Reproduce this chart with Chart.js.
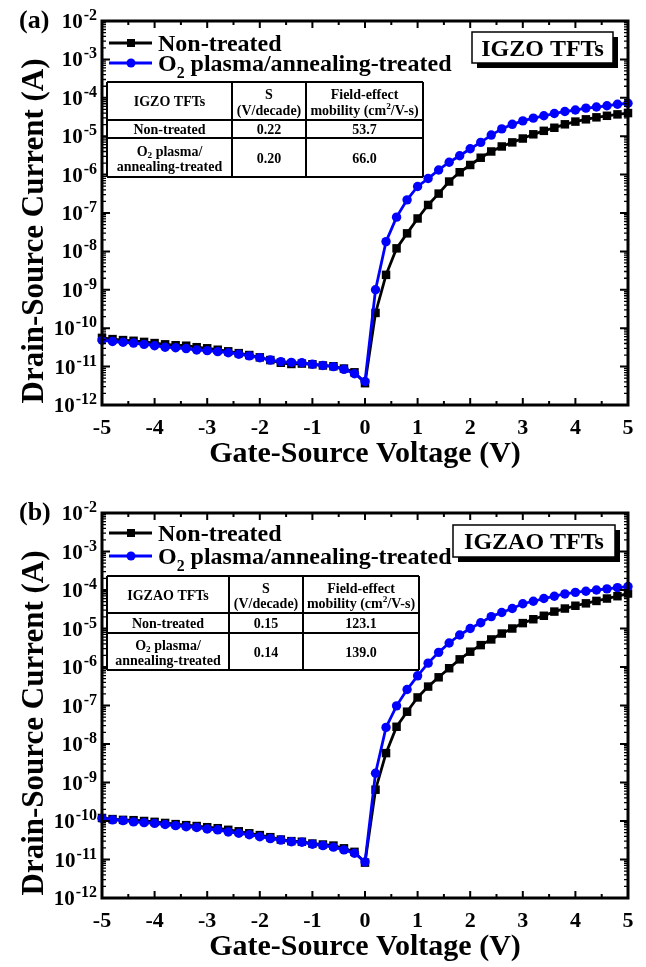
<!DOCTYPE html>
<html>
<head>
<meta charset="utf-8">
<script src="https://cdn.jsdelivr.net/npm/chart.js@4.4.0/dist/chart.umd.min.js"></script>
<style>
  html, body { margin: 0; padding: 0; background: #fff; }
  body { width: 646px; height: 967px; position: relative; overflow: hidden; }
  canvas { position: absolute; left: 0; }
</style>
</head>
<body>
<canvas id="chartA" width="646" height="484" style="top:0px"></canvas>
<canvas id="chartB" width="646" height="483" style="top:484px"></canvas>
<script>
// gate-source voltage (V)
const voltage = [-5, -4.8, -4.6, -4.4, -4.2, -4, -3.8, -3.6, -3.4, -3.2,
  -3, -2.8, -2.6, -2.4, -2.2, -2, -1.8, -1.6, -1.4, -1.2,
  -1, -0.8, -0.6, -0.4, -0.2, 0, 0.2, 0.4, 0.6, 0.8,
  1, 1.2, 1.4, 1.6, 1.8, 2, 2.2, 2.4, 2.6, 2.8,
  3, 3.2, 3.4, 3.6, 3.8, 4, 4.2, 4.4, 4.6, 4.8, 5];

// drain-source current (A), panel (a) IGZO
const igzoNonTreated = [5.6e-11, 5.2e-11, 4.9e-11, 4.7e-11, 4.4e-11, 4.1e-11, 3.8e-11, 3.6e-11, 3.5e-11, 3.2e-11,
  3.0e-11, 2.75e-11, 2.5e-11, 2.24e-11, 2.0e-11, 1.74e-11, 1.48e-11, 1.26e-11, 1.17e-11, 1.2e-11,
  1.15e-11, 1.07e-11, 1.02e-11, 8.9e-12, 7.1e-12, 3.7e-12,
  2.5e-10, 2.45e-9, 1.2e-8, 2.95e-8, 7.2e-8, 1.62e-7, 3.2e-7, 6.6e-7, 1.15e-6, 1.78e-6,
  2.75e-6, 4.0e-6, 5.4e-6, 6.9e-6, 8.7e-6, 1.12e-5, 1.38e-5, 1.66e-5, 2.04e-5, 2.4e-5,
  2.75e-5, 3.1e-5, 3.4e-5, 3.7e-5, 4.0e-5];
const igzoO2Treated = [4.9e-11, 4.5e-11, 4.3e-11, 4.1e-11, 3.8e-11, 3.5e-11, 3.2e-11, 3.1e-11, 2.95e-11, 2.7e-11,
  2.6e-11, 2.45e-11, 2.3e-11, 2.1e-11, 1.9e-11, 1.7e-11, 1.48e-11, 1.35e-11, 1.29e-11, 1.26e-11,
  1.15e-11, 1.07e-11, 1.0e-11, 8.5e-12, 6.5e-12, 4.1e-12,
  1.0e-9, 1.8e-8, 7.8e-8, 2.2e-7, 4.9e-7, 7.9e-7, 1.32e-6, 2.1e-6, 3.1e-6, 4.7e-6,
  6.9e-6, 1.07e-5, 1.55e-5, 2.04e-5, 2.5e-5, 2.95e-5, 3.4e-5, 3.9e-5, 4.4e-5, 4.8e-5,
  5.4e-5, 5.75e-5, 6.2e-5, 6.8e-5, 7.2e-5];

// panel (b) IGZAO
const igzaoNonTreated = [1.2e-10, 1.12e-10, 1.07e-10, 1.05e-10, 1.0e-10, 9.5e-11, 8.9e-11, 8.3e-11, 7.8e-11, 7.4e-11,
  6.9e-11, 6.5e-11, 5.9e-11, 5.4e-11, 4.8e-11, 4.3e-11, 3.8e-11, 3.3e-11, 3.0e-11, 2.9e-11,
  2.6e-11, 2.45e-11, 2.3e-11, 1.95e-11, 1.58e-11, 8.3e-12,
  6.5e-10, 5.8e-9, 2.8e-8, 6.9e-8, 1.62e-7, 3.1e-7, 5.4e-7, 9.3e-7, 1.58e-6, 2.5e-6,
  3.7e-6, 5.2e-6, 7.4e-6, 1.0e-5, 1.38e-5, 1.74e-5, 2.14e-5, 2.75e-5, 3.3e-5, 3.9e-5,
  4.5e-5, 5.2e-5, 6.0e-5, 6.9e-5, 8.1e-5];
const igzaoO2Treated = [1.17e-10, 1.07e-10, 1.02e-10, 9.5e-11, 9.1e-11, 8.7e-11, 8.1e-11, 7.6e-11, 7.1e-11, 6.8e-11,
  6.2e-11, 5.9e-11, 5.2e-11, 4.8e-11, 4.4e-11, 3.9e-11, 3.5e-11, 3.2e-11, 2.9e-11, 2.8e-11,
  2.5e-11, 2.3e-11, 2.1e-11, 1.78e-11, 1.45e-11, 8.7e-12,
  1.74e-9, 2.7e-8, 9.8e-8, 2.6e-7, 5.9e-7, 1.26e-6, 2.4e-6, 4.2e-6, 6.8e-6, 1.0e-5,
  1.41e-5, 2.04e-5, 2.6e-5, 3.3e-5, 4.4e-5, 5.1e-5, 6.0e-5, 6.9e-5, 7.9e-5, 8.7e-5,
  9.3e-5, 1.0e-4, 1.07e-4, 1.15e-4, 1.23e-4];

const xTickValues = [-5, -4, -3, -2, -1, 0, 1, 2, 3, 4, 5];
const yTickExponents = [-2, -3, -4, -5, -6, -7, -8, -9, -10, -11, -12];
const legendLabels = ['Non-treated', 'O_2 plasma/annealing-treated'];
const xTitle = 'Gate-Source Voltage (V)';
const yTitle = 'Drain-Source Current (A)';

// inset tables ("|" splits lines, _2 subscript, ^2 superscript)
const tableHeader = ['S|(V/decade)', 'Field-effect|mobility (cm^2/V-s)'];
const tableRowNames = ['Non-treated', 'O_2 plasma/|annealing-treated'];
const igzoS = ['0.22', '0.20'];
const igzoMobility = ['53.7', '66.0'];
const igzaoS = ['0.15', '0.14'];
const igzaoMobility = ['123.1', '139.0'];

const FONT = "'Liberation Serif', 'Times New Roman', serif";

function parseRich(str, size, subDrop) {
  const parts = [];
  const re = /([_^])(\d)/g;
  let last = 0, m;
  while ((m = re.exec(str))) {
    if (m.index > last) parts.push({ t: str.slice(last, m.index), size: size, dy: 0 });
    parts.push({ t: m[2], size: size * 0.66, dy: m[1] === '_' ? size * subDrop : -size * 0.4 });
    last = re.lastIndex;
  }
  if (last < str.length) parts.push({ t: str.slice(last), size: size, dy: 0 });
  return parts;
}

function drawRich(ctx, str, size, x, y, align, subDrop) {
  const parts = parseRich(str, size, subDrop === undefined ? 0.3 : subDrop);
  let w = 0;
  parts.forEach(p => { ctx.font = 'bold ' + p.size + 'px ' + FONT; p.w = ctx.measureText(p.t).width; w += p.w; });
  let cx = align === 'center' ? x - w / 2 : (align === 'right' ? x - w : x);
  ctx.textAlign = 'left';
  ctx.textBaseline = 'alphabetic';
  parts.forEach(p => {
    ctx.font = 'bold ' + p.size + 'px ' + FONT;
    ctx.fillText(p.t, cx, y + p.dy);
    cx += p.w;
  });
}

const decoPlugin = {
  id: 'deco',
  afterDraw(chart, args, o) {
    const ctx = chart.ctx;
    const a = chart.chartArea;
    const xs = chart.scales.x, ys = chart.scales.y;
    ctx.save();
    ctx.fillStyle = '#000';
    ctx.strokeStyle = '#000';

    // ticks, pointing inward on all four sides
    ctx.lineWidth = 2;
    ctx.beginPath();
    xTickValues.forEach(v => {
      const px = xs.getPixelForValue(v);
      ctx.moveTo(px, a.bottom); ctx.lineTo(px, a.bottom - 7);
      ctx.moveTo(px, a.top); ctx.lineTo(px, a.top + 7);
      if (v < 5) {
        const hx = xs.getPixelForValue(v + 0.5);
        ctx.moveTo(hx, a.bottom); ctx.lineTo(hx, a.bottom - 4);
        ctx.moveTo(hx, a.top); ctx.lineTo(hx, a.top + 4);
      }
    });
    yTickExponents.forEach(e => {
      const py = ys.getPixelForValue(Math.pow(10, e));
      ctx.moveTo(a.left, py); ctx.lineTo(a.left + 8, py);
      ctx.moveTo(a.right, py); ctx.lineTo(a.right - 8, py);
    });
    ctx.stroke();
    ctx.lineWidth = 1.3;
    ctx.beginPath();
    yTickExponents.forEach(e => {
      if (e === -2) return;
      for (let m = 2; m <= 9; m++) {
        const py = ys.getPixelForValue(m * Math.pow(10, e));
        ctx.moveTo(a.left, py); ctx.lineTo(a.left + 4, py);
        ctx.moveTo(a.right, py); ctx.lineTo(a.right - 4, py);
      }
    });
    ctx.stroke();

    // frame
    ctx.lineWidth = 3;
    ctx.strokeRect(a.left, a.top, a.right - a.left, a.bottom - a.top);

    // x tick labels
    ctx.font = 'bold 22px ' + FONT;
    ctx.textAlign = 'center';
    ctx.textBaseline = 'alphabetic';
    xTickValues.forEach(v => {
      ctx.fillText(String(v), xs.getPixelForValue(v), a.bottom + 29);
    });

    // y tick labels 10^n
    yTickExponents.forEach(e => {
      const py = ys.getPixelForValue(Math.pow(10, e));
      ctx.font = 'bold 16px ' + FONT;
      const sw = ctx.measureText(String(e)).width;
      ctx.textAlign = 'left';
      ctx.fillText(String(e), 97 - sw, py - 1);
      ctx.font = 'bold 21px ' + FONT;
      ctx.textAlign = 'right';
      ctx.fillText('10', 97 - sw - 1, py + 7);
    });

    // axis titles
    ctx.font = 'bold 30px ' + FONT;
    ctx.textAlign = 'center';
    ctx.fillText(xTitle, (a.left + a.right) / 2, a.bottom + 57);
    ctx.save();
    ctx.translate(43, a.top + 210);
    ctx.rotate(-Math.PI / 2);
    ctx.font = 'bold 31px ' + FONT;
    ctx.fillText(yTitle, 0, 0);
    ctx.restore();

    // panel label
    ctx.font = 'bold 26px ' + FONT;
    ctx.textAlign = 'left';
    ctx.fillText(o.panel, 19, a.top + 7);

    // legend
    const styles = [{ color: '#000', shape: 'rect' }, { color: '#0000ff', shape: 'circle' }];
    legendLabels.forEach((label, i) => {
      const ly = a.top + o.legendRows[i];
      ctx.strokeStyle = styles[i].color;
      ctx.fillStyle = styles[i].color;
      ctx.lineWidth = 3;
      ctx.beginPath(); ctx.moveTo(109, ly); ctx.lineTo(152, ly); ctx.stroke();
      if (styles[i].shape === 'rect') ctx.fillRect(127, ly - 4, 8, 8);
      else { ctx.beginPath(); ctx.arc(131, ly, 4.5, 0, Math.PI * 2); ctx.fill(); }
      ctx.fillStyle = '#000';
      drawRich(ctx, label, 24, 158, ly + 8, 'left');
    });

    // boxed device label with shadow
    const b = o.box;
    ctx.fillStyle = '#000';
    ctx.fillRect(b.x + 5, b.y + 5, b.w, b.h);
    ctx.fillStyle = '#fff';
    ctx.fillRect(b.x, b.y, b.w, b.h);
    ctx.strokeStyle = '#000';
    ctx.lineWidth = 1.5;
    ctx.strokeRect(b.x, b.y, b.w, b.h);
    ctx.fillStyle = '#000';
    ctx.font = 'bold 24px ' + FONT;
    ctx.textAlign = 'center';
    ctx.fillText(o.device, b.x + b.w / 2, b.y + b.h / 2 + 8);

    // inset table
    const tx = o.table.x, ty = o.table.y;
    ctx.fillStyle = '#fff';
    ctx.fillRect(tx[0], ty[0], tx[3] - tx[0], ty[3] - ty[0]);
    ctx.strokeStyle = '#000';
    ctx.lineWidth = 2;
    ctx.beginPath();
    tx.forEach(x => { ctx.moveTo(x, ty[0]); ctx.lineTo(x, ty[3]); });
    ty.forEach(y => { ctx.moveTo(tx[0], y); ctx.lineTo(tx[3], y); });
    ctx.stroke();
    ctx.fillStyle = '#000';
    const cells = [
      [o.device, tableHeader[0], tableHeader[1]],
      [tableRowNames[0], o.s[0], o.mobility[0]],
      [tableRowNames[1], o.s[1], o.mobility[1]]
    ];
    cells.forEach((row, r) => {
      const mid = (ty[r] + ty[r + 1]) / 2;
      row.forEach((cell, c) => {
        const cx = (tx[c] + tx[c + 1]) / 2;
        const lines = cell.split('|');
        if (lines.length === 1) drawRich(ctx, lines[0], 14, cx, mid + 5, 'center', 0.15);
        else {
          drawRich(ctx, lines[0], 14, cx, mid - 2, 'center', 0.15);
          drawRich(ctx, lines[1], 14, cx, mid + 13.5, 'center', 0.15);
        }
      });
    });
    ctx.restore();
  }
};

function makePanel(id, nonTreated, o2Treated, padTop, padBottom, deco) {
  new Chart(document.getElementById(id), {
    type: 'line',
    data: {
      datasets: [
        {
          label: legendLabels[0],
          data: voltage.map((v, i) => ({ x: v, y: nonTreated[i] })),
          borderColor: '#000', backgroundColor: '#000',
          borderWidth: 2.8, pointStyle: 'rect', pointRadius: 6, pointBorderWidth: 0,
          clip: false, order: 2
        },
        {
          label: legendLabels[1],
          data: voltage.map((v, i) => ({ x: v, y: o2Treated[i] })),
          borderColor: '#0000ff', backgroundColor: '#0000ff',
          borderWidth: 2.8, pointStyle: 'circle', pointRadius: 4.7, pointBorderWidth: 0,
          clip: false, order: 1
        }
      ]
    },
    options: {
      responsive: false,
      animation: false,
      events: [],
      layout: { padding: { left: 102, right: 18, top: padTop, bottom: padBottom } },
      scales: {
        x: { type: 'linear', min: -5, max: 5, display: false },
        y: { type: 'logarithmic', min: 1e-12, max: 1e-2, display: false }
      },
      plugins: {
        legend: { display: false },
        tooltip: { enabled: false },
        deco: deco
      }
    },
    plugins: [decoPlugin]
  });
}

makePanel('chartA', igzoNonTreated, igzoO2Treated, 21, 79, {
  panel: '(a)', device: 'IGZO TFTs',
  legendRows: [22, 42],
  box: { x: 472, y: 32, w: 141, h: 31 },
  table: { x: [107, 232, 306, 423], y: [82, 120, 138, 177] },
  s: igzoS, mobility: igzoMobility
});

makePanel('chartB', igzaoNonTreated, igzaoO2Treated, 29, 69, {
  panel: '(b)', device: 'IGZAO TFTs',
  legendRows: [20, 43],
  box: { x: 453, y: 41, w: 162, h: 32 },
  table: { x: [107, 229, 303, 419], y: [92, 129, 149, 186] },
  s: igzaoS, mobility: igzaoMobility
});
</script>
</body>
</html>
